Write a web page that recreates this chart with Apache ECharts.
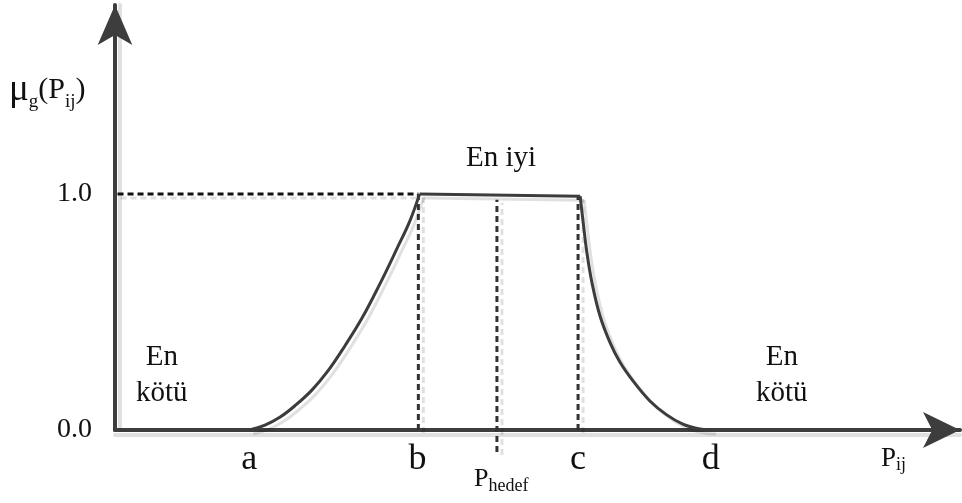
<!DOCTYPE html>
<html>
<head>
<meta charset="utf-8">
<title>Üyelik fonksiyonu</title>
<script src="https://cdn.jsdelivr.net/npm/echarts@6/dist/echarts.min.js"></script>
<style>
html, body { margin: 0; padding: 0; background: #fff; }
#chart { width: 962px; height: 503px; }
</style>
</head>
<body>
<div id="chart"></div>
<script>
// x-axis break points and their labels
const cats = ['a', 'b', 'c', 'd'];
const catX = [15.9, 35.8, 54.8, 70.5];
const yTicks = [0, 1];

// rising part a -> b
const riseX = [15.9, 17.75, 19.55, 21.4, 23.3, 25.2, 27.2, 29.25, 31.35, 33.35, 34.9, 36.05];
const riseY = [0, 0.021, 0.055, 0.106, 0.169, 0.25, 0.356, 0.475, 0.619, 0.767, 0.886, 1];
// flat part b -> c
const flatX = [36.05, 55.05];
const flatY = [1, 0.99];
// falling part c -> d
const fallX = [55.05, 55.4, 55.85, 56.45, 57.4, 58.6, 59.75, 61.3, 63.3, 65.3, 67.2, 69.25, 70.65];
const fallY = [0.99, 0.881, 0.75, 0.623, 0.483, 0.369, 0.288, 0.208, 0.123, 0.064, 0.025, 0.004, 0];

// dashed guides: b, P_hedef, c
const dashX = [35.9, 45.2, 54.8];
const dashTop = [1, 0.975, 0.99];
const dashBottom = [0, -0.093, 0];
// dashed line at 1.0
const levelX = [0.3, 35.9];
const levelY = [1, 1];

const font = 'Liberation Serif';
const shade = 'rgba(0,0,0,0.12)';

function pairs(xs, ys) {
  return xs.map((x, i) => [x, ys[i]]);
}

function curve(xs, ys, smooth) {
  return {
    type: 'line',
    data: pairs(xs, ys),
    smooth: smooth,
    symbol: 'none',
    clip: false,
    silent: true,
    lineStyle: {
      color: '#3c3c3c', width: 3,
      shadowColor: shade, shadowOffsetX: 4, shadowOffsetY: 4, shadowBlur: 0
    },
    z: 5
  };
}

const series = [
  curve(riseX, riseY, 0.4),
  curve(flatX, flatY, false),
  curve(fallX, fallY, 0.4),
  {
    type: 'line',
    data: pairs(levelX, levelY),
    symbol: 'none',
    clip: false,
    silent: true,
    lineStyle: {
      color: '#111', width: 3, type: [6, 4],
      shadowColor: shade, shadowOffsetX: 3, shadowOffsetY: 4, shadowBlur: 0
    },
    z: 4
  }
];

dashX.forEach((x, i) => {
  series.push({
    type: 'line',
    data: [[x, dashBottom[i]], [x, dashTop[i]]],
    symbol: 'none',
    clip: false,
    silent: true,
    lineStyle: {
      color: '#333', width: 3, type: [6, 4],
      shadowColor: shade, shadowOffsetX: 5, shadowOffsetY: 3, shadowBlur: 0
    },
    z: 4
  });
});

let chart = echarts.init(document.getElementById('chart'));
chart.setOption({
  animation: false,
  grid: { left: 115, right: 2, top: 5, bottom: 73 },
  xAxis: {
    type: 'value',
    min: 0,
    max: 100,
    splitLine: { show: false },
    axisTick: { show: false },
    axisLine: {
      show: true,
      onZero: false,
      symbol: ['none', 'arrow'],
      symbolSize: [27, 37],
      lineStyle: {
        color: '#3d3d3d', width: 4,
        shadowColor: shade, shadowOffsetX: 0, shadowOffsetY: 5, shadowBlur: 0
      }
    },
    axisLabel: {
      customValues: catX,
      formatter: function (v) {
        let best = 0;
        catX.forEach((c, i) => { if (Math.abs(c - v) < Math.abs(catX[best] - v)) best = i; });
        return cats[best];
      },
      fontFamily: font,
      fontSize: 36,
      color: '#111',
      margin: 12
    }
  },
  yAxis: {
    type: 'value',
    min: 0,
    max: 1.8,
    splitLine: { show: false },
    axisTick: { show: false },
    axisLine: {
      show: true,
      symbol: ['none', 'arrow'],
      symbolSize: [26, 40],
      lineStyle: {
        color: '#3d3d3d', width: 4,
        shadowColor: shade, shadowOffsetX: 5, shadowOffsetY: 0, shadowBlur: 0
      }
    },
    axisLabel: {
      customValues: yTicks,
      formatter: v => v.toFixed(1),
      fontFamily: font,
      fontSize: 28,
      color: '#111',
      margin: 23
    }
  },
  graphic: [
    {
      type: 'text', left: 9, top: 72,
      style: {
        text: '{mu|μ}{sub|g}{big|(P}{sub|ij}{big|)}',
        fill: '#111',
        rich: {
          mu: { fontFamily: font, fontSize: 37, lineHeight: 42, fill: '#111' },
          big: { fontFamily: font, fontSize: 30, lineHeight: 42, fill: '#111' },
          sub: { fontFamily: font, fontSize: 19, lineHeight: 42, verticalAlign: 'bottom', fill: '#111' }
        }
      }
    },
    {
      type: 'text', left: 466, top: 144,
      style: { text: 'En iyi', font: '29px "Liberation Serif"', fill: '#111' }
    },
    {
      type: 'text', left: 136, top: 339,
      style: { text: 'En\nkötü', font: '29px "Liberation Serif"', fill: '#111', lineHeight: 36, textAlign: 'center' }
    },
    {
      type: 'text', left: 756, top: 339,
      style: { text: 'En\nkötü', font: '29px "Liberation Serif"', fill: '#111', lineHeight: 36, textAlign: 'center' }
    },
    {
      type: 'text', left: 474, top: 466,
      style: {
        text: '{big|P}{sub|hedef}',
        rich: {
          big: { fontFamily: font, fontSize: 26, lineHeight: 32, fill: '#111' },
          sub: { fontFamily: font, fontSize: 18, lineHeight: 32, verticalAlign: 'bottom', fill: '#111' }
        }
      }
    },
    {
      type: 'text', left: 881, top: 445,
      style: {
        text: '{big|P}{sub|ij}',
        rich: {
          big: { fontFamily: font, fontSize: 27, lineHeight: 32, fill: '#111' },
          sub: { fontFamily: font, fontSize: 18, lineHeight: 32, verticalAlign: 'bottom', fill: '#111' }
        }
      }
    }
  ],
  series: series
});
</script>
</body>
</html>
